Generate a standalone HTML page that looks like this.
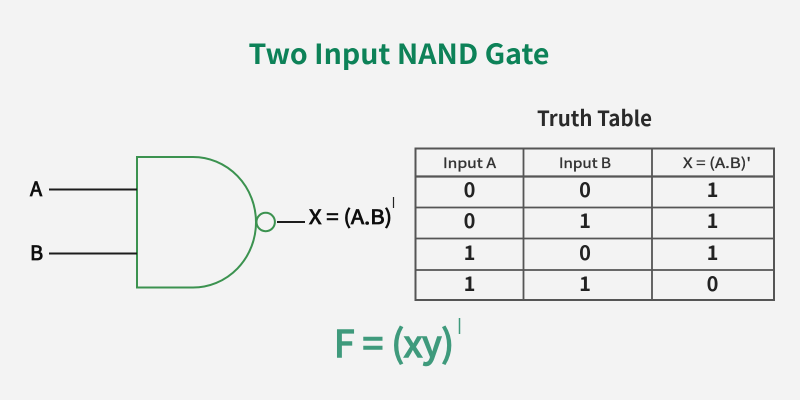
<!DOCTYPE html>
<html><head><meta charset="utf-8"><style>
html,body{margin:0;padding:0;background:#f3f3f3}
svg{display:block}
text{font-family:"Noto Sans CJK SC","Liberation Sans",sans-serif}
.c{text-anchor:middle;fill:#222;font-size:20px;font-weight:700}
.h{text-anchor:middle;fill:#333;font-size:14px;font-weight:400;stroke:#333;stroke-width:.35}
</style></head><body>
<svg width="800" height="400" viewBox="0 0 800 400" xmlns="http://www.w3.org/2000/svg">
<defs><filter id="s" filterUnits="userSpaceOnUse" x="0" y="0" width="800" height="400"><feGaussianBlur stdDeviation="0.35"/></filter></defs>
<rect width="800" height="400" fill="#f3f3f3"/>
<g filter="url(#s)">
<text x="399" y="64" text-anchor="middle" font-size="28" font-weight="700" fill="#0f8259" textLength="301" lengthAdjust="spacingAndGlyphs">Two Input NAND Gate</text>
<path d="M137 157H193A63 65.250 0 0 1 193 287.500H137Z" fill="none" stroke="#3b9250" stroke-width="2"/>
<circle cx="265.700" cy="222" r="9.200" fill="none" stroke="#3b9250" stroke-width="2"/>
<path d="M49 189.500H137M49 253.500H137M277 222H305" stroke="#1c1c1c" stroke-width="2" fill="none"/>
<g fill="#111" stroke="#111" stroke-width=".8" font-size="20" font-weight="400">
<text x="30" y="196">A</text>
<text x="30" y="260">B</text>
<text x="309" y="224" textLength="83" lengthAdjust="spacingAndGlyphs">X = (A.B)</text>
</g>
<path d="M393.500 197V208" stroke="#222" stroke-width="1.200"/>
<text x="594.500" y="126" text-anchor="middle" font-size="21" font-weight="700" fill="#2b2b2b" textLength="115" lengthAdjust="spacingAndGlyphs">Truth Table</text>
<g stroke="#555" fill="none">
<rect x="415.500" y="148.500" width="358.500" height="151.500" stroke-width="2"/>
<path d="M415 176.500H774" stroke-width="2.200"/>
<path d="M415 207.500H774M415 238.500H774M415 270H774M523.500 148V300M652 148V300" stroke-width="1.800"/>
</g>
<text class="h" x="469.500" y="168" textLength="53" lengthAdjust="spacingAndGlyphs">Input A</text>
<text class="h" x="585" y="168" textLength="52" lengthAdjust="spacingAndGlyphs">Input B</text>
<text class="h" x="717" y="168" textLength="68" lengthAdjust="spacingAndGlyphs">X = (A.B)'</text>
<text class="c" x="469.500" y="197">0</text><text class="c" x="585" y="197">0</text><text class="c" x="712.500" y="197">1</text>
<text class="c" x="469.500" y="228">0</text><text class="c" x="585" y="228">1</text><text class="c" x="712.500" y="228">1</text>
<text class="c" x="469.500" y="260">1</text><text class="c" x="585" y="260">0</text><text class="c" x="712.500" y="260">1</text>
<text class="c" x="469.500" y="291">1</text><text class="c" x="585" y="291">1</text><text class="c" x="712.500" y="291">0</text>
<text x="334" y="357" font-size="37" font-weight="400" fill="#3f9a7c" stroke="#3f9a7c" stroke-width="1.500" textLength="120" lengthAdjust="spacingAndGlyphs">F = (xy)</text>
<path d="M459.500 318V334" stroke="#3f9a7c" stroke-width="1.500"/>
</g>
</svg>
</body></html>
